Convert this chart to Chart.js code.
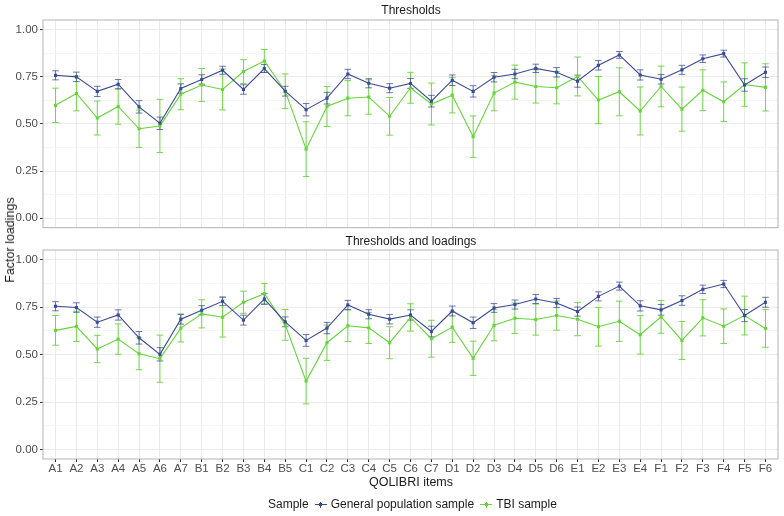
<!DOCTYPE html>
<html>
<head>
<meta charset="utf-8">
<script src="https://cdn.jsdelivr.net/npm/chart.js@4.4.0/dist/chart.umd.min.js"></script>
<style>
  body { margin: 0; background: #fff; font-family: 'Liberation Sans', Arial, sans-serif; }
  #wrap { position: relative; width: 784px; height: 516px; overflow: hidden; }
  canvas { position: absolute; left: 0; }
  .txt { position: absolute; white-space: nowrap; color: #1a1a1a; }
  .strip { font-size: 12px; transform: translateX(-50%); }
  .key { display: inline-block; position: relative; width: 12px; height: 12px; vertical-align: middle; margin: 0 4px 0 6px; }
  .key i { position: absolute; display: block; }
</style>
</head>
<body>
<div id="wrap">
  <canvas id="topChart" width="784" height="250" style="top:0"></canvas>
  <canvas id="botChart" width="784" height="284" style="top:232px"></canvas>
  <div class="txt strip" style="left:411px; top:3px">Thresholds</div>
  <div class="txt strip" style="left:411px; top:234px">Thresholds and loadings</div>
  <div class="txt" style="left:10px; top:240px; font-size:12.5px; transform: translate(-50%,-50%) rotate(-90deg)">Factor loadings</div>
  <div class="txt" style="left:411px; top:475px; font-size:12.5px; transform: translateX(-50%)">QOLIBRI items</div>
  <div class="txt" id="legend" style="left:268px; top:497px; font-size:12px">
    Sample<span class="key"><i style="left:0;top:5.5px;width:12px;height:1px;background:#3b4a96"></i><i style="left:5.5px;top:3px;width:1px;height:6px;background:#3b4a96"></i><i style="left:4.5px;top:4.5px;width:3px;height:3px;background:#3b4a96"></i></span>General population sample<span class="key"><i style="left:0;top:5.5px;width:12px;height:1px;background:#66d43a"></i><i style="left:5.5px;top:3px;width:1px;height:6px;background:#66d43a"></i><i style="left:4.5px;top:4.5px;width:3px;height:3px;background:#66d43a"></i></span>TBI sample
  </div>
</div>
<script>
// QOLIBRI items (categorias del eje x)
const items = ['A1','A2','A3','A4','A5','A6','A7','B1','B2','B3','B4','B5',
  'C1','C2','C3','C4','C5','C6','C7','D1','D2','D3','D4','D5','D6',
  'E1','E2','E3','E4','F1','F2','F3','F4','F5','F6'];

const yTicks = [0, 0.25, 0.5, 0.75, 1];

// Panel "Thresholds"
const genTop = [0.757,0.749,0.672,0.710,0.590,0.503,0.687,0.735,0.784,0.682,0.793,0.673,
  0.575,0.636,0.764,0.715,0.689,0.714,0.620,0.731,0.672,0.747,0.764,0.794,0.773,
  0.726,0.810,0.865,0.759,0.736,0.786,0.845,0.872,0.706,0.773];
const genTopErr = [0.024,0.025,0.027,0.025,0.033,0.033,0.025,0.025,0.021,0.025,0.021,0.026,
  0.033,0.031,0.025,0.024,0.024,0.026,0.031,0.028,0.030,0.025,0.025,0.022,0.025,
  0.032,0.025,0.018,0.027,0.025,0.024,0.020,0.018,0.033,0.028];
const tbiTop = [0.598,0.661,0.531,0.592,0.474,0.489,0.657,0.706,0.682,0.777,0.833,0.673,
  0.366,0.592,0.636,0.642,0.540,0.691,0.605,0.652,0.432,0.663,0.721,0.698,0.691,
  0.751,0.626,0.670,0.568,0.698,0.578,0.678,0.617,0.708,0.693];
const tbiTopErr = [0.091,0.092,0.090,0.094,0.099,0.141,0.082,0.087,0.108,0.063,0.061,0.092,
  0.145,0.106,0.093,0.091,0.100,0.082,0.111,0.094,0.110,0.094,0.090,0.088,0.085,
  0.103,0.125,0.127,0.127,0.108,0.117,0.108,0.105,0.115,0.125];

// Panel "Thresholds and loadings"
const genBot = [0.754,0.747,0.670,0.708,0.588,0.501,0.686,0.733,0.780,0.681,0.792,0.672,
  0.574,0.639,0.761,0.712,0.686,0.708,0.621,0.729,0.667,0.745,0.763,0.792,0.771,
  0.726,0.806,0.860,0.756,0.735,0.784,0.843,0.871,0.705,0.775];
const genBotErr = [0.024,0.025,0.027,0.027,0.033,0.035,0.026,0.024,0.023,0.026,0.028,0.026,
  0.031,0.030,0.024,0.024,0.025,0.027,0.028,0.026,0.030,0.023,0.024,0.024,0.024,
  0.024,0.024,0.021,0.027,0.028,0.025,0.022,0.019,0.032,0.026];
const tbiBot = [0.627,0.648,0.529,0.581,0.504,0.478,0.639,0.714,0.696,0.775,0.820,0.656,
  0.360,0.562,0.651,0.640,0.562,0.695,0.583,0.644,0.480,0.654,0.691,0.684,0.705,
  0.686,0.646,0.675,0.604,0.698,0.574,0.693,0.649,0.705,0.637];
const tbiBotErr = [0.078,0.080,0.072,0.080,0.084,0.124,0.073,0.074,0.104,0.058,0.054,0.081,
  0.120,0.093,0.083,0.082,0.084,0.072,0.097,0.080,0.090,0.082,0.080,0.082,0.077,
  0.087,0.102,0.106,0.102,0.086,0.100,0.095,0.091,0.102,0.099];

const BLUE = '#3b4a96';
const GREEN = '#66d43a';
const FONT = "'Liberation Sans', Arial, sans-serif";

// Barras de error + borde del panel
const errorBarPlugin = {
  id: 'errorBars',
  beforeDatasetsDraw(chart) {
    const ctx = chart.ctx;
    const xs = chart.scales.x, ys = chart.scales.y;
    ctx.save();
    // dibujar en orden inverso para que la serie azul quede arriba
    for (let d = chart.data.datasets.length - 1; d >= 0; d--) {
      const ds = chart.data.datasets[d];
      ctx.strokeStyle = ds.errColor;
      ctx.lineWidth = 1;
      ds.data.forEach((p, i) => {
        const e = ds.errors[i];
        const x = xs.getPixelForValue(p.x);
        const y1 = ys.getPixelForValue(p.y - e);
        const y2 = ys.getPixelForValue(p.y + e);
        ctx.beginPath();
        ctx.moveTo(x, y1); ctx.lineTo(x, y2);
        ctx.moveTo(x - 3.3, y1); ctx.lineTo(x + 3.3, y1);
        ctx.moveTo(x - 3.3, y2); ctx.lineTo(x + 3.3, y2);
        ctx.stroke();
      });
    }
    ctx.restore();
  },
  afterDraw(chart) {
    const a = chart.chartArea, ctx = chart.ctx;
    ctx.save();
    ctx.strokeStyle = '#b3b3b3';
    ctx.lineWidth = 1;
    ctx.strokeRect(a.left, a.top, a.right - a.left, a.bottom - a.top);
    ctx.restore();
  }
};

function toPoints(vals) {
  return vals.map((v, i) => ({ x: i, y: v }));
}

function makePanel(id, genVals, genErr, tbiVals, tbiErr, showX, padTop, xHeight) {
  const ctx = document.getElementById(id).getContext('2d');
  return new Chart(ctx, {
    type: 'line',
    data: {
      datasets: [{
        label: 'General population sample',
        data: toPoints(genVals),
        errors: genErr,
        errColor: 'rgba(59, 74, 150, 0.75)',
        borderColor: BLUE,
        backgroundColor: BLUE,
        borderWidth: 1.1,
        pointStyle: 'rect',
        pointRadius: 2.2,
        pointBorderWidth: 0,
        tension: 0
      }, {
        label: 'TBI sample',
        data: toPoints(tbiVals),
        errors: tbiErr,
        errColor: 'rgba(102, 212, 58, 0.9)',
        borderColor: GREEN,
        backgroundColor: GREEN,
        borderWidth: 1.1,
        pointStyle: 'rect',
        pointRadius: 2.2,
        pointBorderWidth: 0,
        tension: 0
      }]
    },
    options: {
      responsive: false,
      animation: false,
      layout: { padding: { top: padTop, right: 6, bottom: 0, left: 0 } },
      plugins: { legend: { display: false }, tooltip: { enabled: false } },
      scales: {
        x: {
          type: 'linear',
          min: -0.6,
          max: items.length - 0.4,
          afterBuildTicks: (s) => { s.ticks = items.map((_, i) => ({ value: i })); },
          afterFit: (s) => { s.height = xHeight; },
          border: { display: false },
          grid: { color: '#ebebeb', lineWidth: 1, drawTicks: showX, tickLength: 3, tickColor: '#333333' },
          ticks: {
            display: showX,
            autoSkip: false,
            maxRotation: 0,
            padding: 0,
            color: '#4d4d4d',
            font: { family: FONT, size: 11.5 },
            callback: (v) => items[v]
          }
        },
        y: {
          min: -0.05,
          max: 1.05,
          afterBuildTicks: (s) => {
            s.ticks = [0, 0.125, 0.25, 0.375, 0.5, 0.625, 0.75, 0.875, 1].map(v => ({ value: v }));
          },
          afterFit: (s) => { s.width = 43; },
          border: { display: false },
          grid: {
            color: (c) => yTicks.includes(c.tick.value) ? '#ebebeb' : '#f5f5f5',
            lineWidth: 1,
            tickLength: 3,
            tickColor: (c) => yTicks.includes(c.tick.value) ? '#333333' : 'rgba(0,0,0,0)'
          },
          ticks: {
            padding: 2,
            color: '#4d4d4d',
            font: { family: FONT, size: 11.5 },
            callback: (v) => yTicks.includes(v) ? v.toFixed(2) : ''
          }
        }
      }
    },
    plugins: [errorBarPlugin]
  });
}

// lienzo superior: 250 px de alto, area hasta y=227.7
makePanel('topChart', genTop, genTopErr, tbiTop, tbiTopErr, false, 20, 22.3);
// lienzo inferior: empieza en y=232, area de 250 a 459
makePanel('botChart', genBot, genBotErr, tbiBot, tbiBotErr, true, 18, 57);
</script>
</body>
</html>
